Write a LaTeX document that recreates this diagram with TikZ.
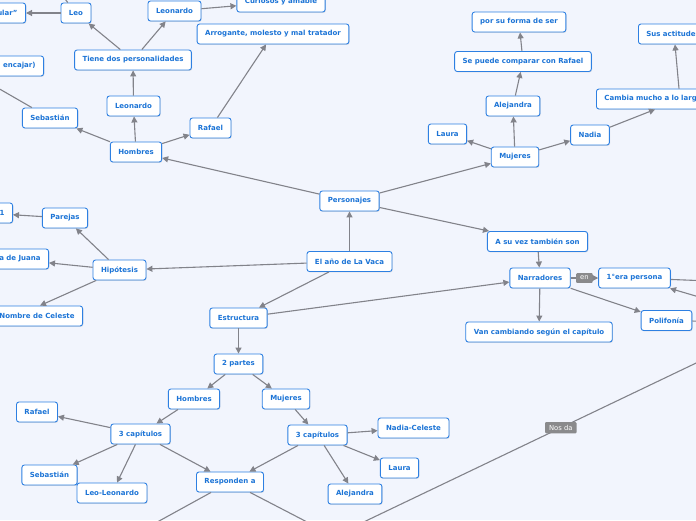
\documentclass[tikz,border=0pt]{standalone}
\usepackage{fontspec}
\setmainfont{DejaVu Sans}
\usetikzlibrary{arrows.meta,shadows}
\definecolor{MapBlue}{RGB}{28,116,214}
\definecolor{EdgeBlue}{RGB}{46,128,226}
\definecolor{LinkGray}{RGB}{130,131,138}
\definecolor{TagGray}{RGB}{138,138,140}
\definecolor{Backdrop}{RGB}{242,245,253}

\begin{document}
\begin{tikzpicture}[x=1pt,y=-1pt, every node/.style={font=\fontsize{7}{8}\selectfont\bfseries, text=MapBlue}]
\tikzset{
  box/.style={draw=EdgeBlue, line width=0.9pt, rounded corners=2.5pt, fill=white, inner xsep=8pt, inner ysep=0pt, minimum height=20pt,
    drop shadow={shadow xshift=0.7pt, shadow yshift=-0.9pt, opacity=0.22}},
  cutbox/.style={box, text width=#1},
  link/.style={-{Triangle[length=6pt,width=6pt]}, line width=1.1pt, LinkGray},
  plain/.style={line width=1.1pt, LinkGray},
  tag/.style={fill=TagGray, text=white, rounded corners=1pt, font=\fontsize{6.8}{8}\selectfont, inner xsep=4pt, inner ysep=3pt}
}
  \useasboundingbox (0,0) rectangle (696,520);
  \fill[Backdrop] (0,0) rectangle (696,520);
  \clip (0,0) rectangle (696,520);

  % centre
  \node[box] (vaca) at (349.5,261.5) {El año de La Vaca};
  \node[box] (personajes) at (349.5,201) {Personajes};
  \node[box] (hipotesis) at (119.5,270) {Hipótesis};
  \node[box] (estructura) at (238.5,318) {Estructura};

  % hombres
  \node[box] (hombres) at (136,152) {Hombres};
  \node[box] (sebastian) at (50,118) {Sebastián};
  \node[box] (leonardo) at (133.5,106) {Leonardo};
  \node[box] (rafael) at (210.5,128) {Rafael};
  \node[box] (personalidades) at (133,60) {Tiene dos personalidades};
  \node[box] (leo) at (76,13) {Leo};
  \node[box] (leonardoB) at (174.5,11) {Leonardo};
  \node[box] (curiosos) at (281,2) {Curiosos y amable};
  \node[box] (arrogante) at (273,34) {Arrogante, molesto y mal tratador};
  \node[cutbox=50pt, align=right, anchor=east] (singular) at (26,13) {ular"};
  \node[cutbox=50pt, align=right, anchor=east] (encajar) at (44,66) {encajar)};
  \coordinate (leoUp) at (58,-10);
  \coordinate (sebOff) at (-30,72);

  % mujeres
  \node[box] (mujeres) at (515,157) {Mujeres};
  \node[box] (laura) at (447.5,134) {Laura};
  \node[box] (alejandra) at (513,106) {Alejandra};
  \node[box] (nadia) at (590,135) {Nadia};
  \node[box] (comparar) at (523,61.5) {Se puede comparar con Rafael};
  \node[box] (forma) at (519,22) {por su forma de ser};
  \node[cutbox=120pt, align=left, anchor=west] (cambia) at (596,99) {Cambia mucho a lo largo};
  \node[cutbox=80pt, align=left, anchor=west] (actitudes) at (638,34) {Sus actitudes};

  % narradores
  \node[box] (tambien) at (537.5,241.5) {A su vez también son};
  \node[box] (narradores) at (540,278) {Narradores};
  \node[box] (primera) at (634.5,278) {1°era persona};
  \node[box] (cambiando) at (539,332) {Van cambiando según el capítulo};
  \node[box] (polifonia) at (666.5,320.5) {Polifonía};
  \coordinate (primOut) at (760,283);
  \coordinate (primIn) at (740,309);
  \coordinate (poliOut) at (740,322);

  % hipotesis
  \node[box] (parejas) at (65,218) {Parejas};
  \node[cutbox=40pt, align=right, anchor=east] (uno) at (13,213) {1};
  \node[cutbox=60pt, align=right, anchor=east] (juana) at (49,259) {a de Juana};
  \node[box, anchor=east] (celeste) at (83,316) {Nombre de Celeste};

  % estructura
  \node[box] (partes) at (238.5,364) {2 partes};
  \node[box] (hombresB) at (194,399) {Hombres};
  \node[box] (mujeresB) at (286,399) {Mujeres};
  \node[box] (capH) at (140.5,434) {3 capítulos};
  \node[box] (capM) at (317.5,435) {3 capítulos};
  \node[box] (rafaelB) at (37,412) {Rafael};
  \node[box] (sebastianB) at (49.5,475) {Sebastián};
  \node[box] (leoleonardo) at (112,493) {Leo-Leonardo};
  \node[box] (responden) at (230,482) {Responden a};
  \node[box] (nadiaceleste) at (413.5,428) {Nadia-Celeste};
  \node[box] (lauraB) at (399.5,468) {Laura};
  \node[box] (alejandraB) at (355,494) {Alejandra};
  \coordinate (respL) at (130,537);
  \coordinate (respR) at (336,537);
  \coordinate (nosA) at (326,540);
  \coordinate (nosB) at (738,343);

  % connectors
  \draw[link] (vaca) -- (personajes);
  \draw[link] (vaca) -- (hipotesis);
  \draw[link] (vaca) -- (estructura);
  \draw[link] (personajes) -- (hombres);
  \draw[link] (personajes) -- (mujeres);
  \draw[link] (personajes) -- (tambien);
  \draw[link] (hombres) -- (sebastian);
  \draw[link] (hombres) -- (leonardo);
  \draw[link] (hombres) -- (rafael);
  \draw[link] (leonardo) -- (personalidades);
  \draw[link] (personalidades) -- (leo);
  \draw[link] (personalidades) -- (leonardoB);
  \draw[link] (leonardoB) -- (curiosos);
  \draw[link] (rafael) -- (arrogante);
  \draw[link] (leo) -- (singular);
  \draw[plain] (leo) -- (leoUp);
  \draw[plain] (sebastian) -- (sebOff);
  \draw[link] (mujeres) -- (laura);
  \draw[link] (mujeres) -- (alejandra);
  \draw[link] (mujeres) -- (nadia);
  \draw[link] (alejandra) -- (comparar);
  \draw[link] (comparar) -- (forma);
  \draw[link] (nadia) -- (cambia.south west -| 655,0);
  \draw[link] (cambia.north west -| 679,0) -- (actitudes.south west -| 675,0);
  \draw[link] (tambien) -- (narradores);
  \draw[link] (narradores) -- node[tag]{en} (primera);
  \draw[link] (narradores) -- (cambiando);
  \draw[link] (narradores) -- (polifonia);
  \draw[plain] (primera) -- (primOut);
  \draw[link] (primIn) -- (primera);
  \draw[plain] (polifonia) -- (poliOut);
  \draw[link] (hipotesis) -- (parejas);
  \draw[link] (parejas) -- (uno);
  \draw[link] (hipotesis) -- (juana);
  \draw[link] (hipotesis) -- (celeste.north -| 40,0);
  \draw[link] (estructura) -- (narradores);
  \draw[link] (estructura) -- (partes);
  \draw[link] (partes) -- (hombresB);
  \draw[link] (partes) -- (mujeresB);
  \draw[link] (hombresB) -- (capH);
  \draw[link] (mujeresB) -- (capM);
  \draw[link] (capH) -- (rafaelB);
  \draw[link] (capH) -- (sebastianB);
  \draw[link] (capH) -- (leoleonardo);
  \draw[link] (capH) -- (responden);
  \draw[link] (capM) -- (responden);
  \draw[link] (capM) -- (nadiaceleste);
  \draw[link] (capM) -- (lauraB);
  \draw[link] (capM) -- (alejandraB);
  \draw[link] (responden) -- (respL);
  \draw[link] (responden) -- (respR);
  \draw[plain] (nosA) -- node[tag, pos=0.57]{Nos da} (nosB);
\end{tikzpicture}
\end{document}
